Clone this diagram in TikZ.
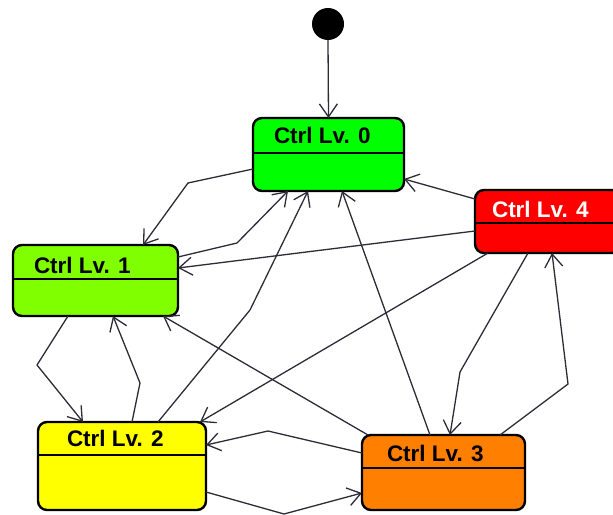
\documentclass[tikz,border=0pt]{standalone}
\usepackage{fontspec}
\setmainfont{Liberation Sans}
\usetikzlibrary{arrows.meta,calc}

\definecolor{lvzero}{HTML}{00FF00}
\definecolor{lvone}{HTML}{80FF00}
\definecolor{lvtwo}{HTML}{FFFF00}
\definecolor{lvthree}{HTML}{FF8000}
\definecolor{lvfour}{HTML}{FF0000}
\definecolor{wire}{HTML}{2C2C38}

\begin{document}
\begin{tikzpicture}[x=1pt,y=-1pt,
  state/.style={draw=black, line width=2.4pt, rounded corners=9pt,
    inner sep=0pt, outer sep=0pt},
  divider/.style={draw=black, line width=1.4pt},
  title/.style={anchor=west, inner sep=0pt, outer sep=0pt,
    font=\fontsize{22.5}{27}\selectfont\bfseries},
  trans/.style={draw=wire, line width=1.3pt, line join=round,
    -{Straight Barb[length=13pt,width=18pt]}},
  initdot/.style={circle, fill=black, minimum size=32pt, inner sep=0pt, outer sep=0pt}
]
\useasboundingbox (0,0) rectangle (613,514);

% initial pseudo-state
\node[initdot] (init) at (328,24) {};

% states
\node[state, fill=lvzero,  minimum width=151pt, minimum height=73pt] (b0) at (328.5,154.5) {};
\node[state, fill=lvone,   minimum width=165pt, minimum height=71pt] (b1) at (95.5,280.5) {};
\node[state, fill=lvtwo,   minimum width=168pt, minimum height=88pt] (b2) at (122,466) {};
\node[state, fill=lvthree, minimum width=163pt, minimum height=75pt] (b3) at (443.5,472.5) {};
\node[state, fill=lvfour,  minimum width=146pt, minimum height=63pt] (b4) at (548,221.5) {};

% compartment lines
\draw[divider] ($(b0.north west)+(0,35)$) -- ($(b0.north east)+(0,35)$);
\draw[divider] ($(b1.north west)+(0,34)$) -- ($(b1.north east)+(0,34)$);
\draw[divider] ($(b2.north west)+(0,33)$) -- ($(b2.north east)+(0,33)$);
\draw[divider] ($(b3.north west)+(0,33)$) -- ($(b3.north east)+(0,33)$);
\draw[divider] ($(b4.north west)+(0,33)$) -- ($(b4.north east)+(0,33)$);

% state names
\node[title] (t0) at ($(b0.north west)+(21,17.5)$) {Ctrl Lv. 0};
\node[title] (t1) at ($(b1.north west)+(21,20)$) {Ctrl Lv. 1};
\node[title] (t2) at ($(b2.north west)+(29,16.5)$) {Ctrl Lv. 2};
\node[title] (t3) at ($(b3.north west)+(25,18.5)$) {Ctrl Lv. 3};
\node[title, text=white] (t4) at ($(b4.north west)+(17,19.5)$) {Ctrl Lv. 4};

% transitions
\draw[trans] (init.south) -- (b0.north);
\draw[trans] ($(b0.north west)+(0,51)$) -- (188,183) -- ($(b1.north west)+(130,0)$);
\draw[trans] ($(b1.north east)+(0,12)$) -- (237,243) -- ($(b0.south west)+(35,0)$);
\draw[trans] ($(b2.north west)+(120,0)$) -- (250,310) -- ($(b0.south west)+(55,0)$);
\draw[trans] ($(b3.north west)+(68,0)$) -- ($(b0.south west)+(89,0)$);
\draw[trans] ($(b4.north west)+(0,9)$) -- ($(b0.north east)+(0,61)$);
\draw[trans] ($(b4.north west)+(0,41)$) -- ($(b1.north east)+(0,23)$);
\draw[trans] ($(b1.south west)+(55,0)$) -- (37,365) -- ($(b2.north west)+(45,0)$);
\draw[trans] ($(b2.north west)+(94,0)$) -- (140,383) -- ($(b1.south west)+(100,0)$);
\draw[trans] ($(b3.north west)+(6,0)$) -- ($(b1.south west)+(150,0)$);
\draw[trans] ($(b4.south west)+(13,0)$) -- ($(b2.north west)+(162,0)$);
\draw[trans] ($(b4.south west)+(53,0)$) -- (460,372) -- ($(b3.north west)+(88,0)$);
\draw[trans] ($(b3.north west)+(138,0)$) -- (568,384) -- ($(b4.south west)+(77,0)$);
\draw[trans] ($(b3.north west)+(0,18)$) -- (268,431) -- ($(b2.north east)+(0,23)$);
\draw[trans] ($(b2.north east)+(0,70)$) -- (284,514) -- ($(b3.north west)+(0,58)$);
\end{tikzpicture}
\end{document}
